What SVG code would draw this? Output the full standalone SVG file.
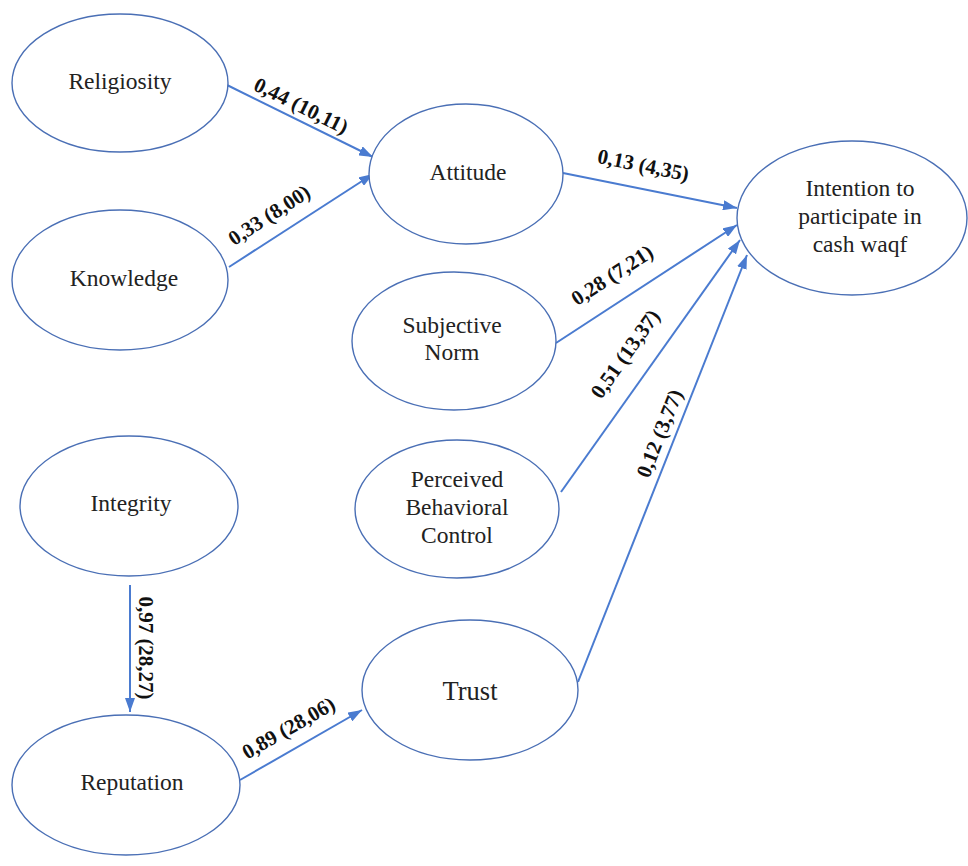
<svg xmlns="http://www.w3.org/2000/svg" width="968" height="866" viewBox="0 0 968 866">
<style>
.node ellipse{fill:#fff;stroke:#4a6fb5;stroke-width:1.4}
.node text{font-size:23.5px;fill:#222;text-anchor:middle;dominant-baseline:middle}
.edges line{stroke:#4a7bd0;stroke-width:2;marker-end:url(#ah)}
.lbl{font-size:21px;font-weight:bold;fill:#111;text-anchor:middle}
</style>
<defs>
<marker id="ah" viewBox="0 0 14 10" refX="14" refY="5" markerWidth="14" markerHeight="10" markerUnits="userSpaceOnUse" orient="auto"><path d="M0,0 L14,5 L0,10 z" fill="#4a7bd0"/></marker>
</defs>
<rect width="968" height="866" fill="#fff"/>
<g class="edges" font-family="Liberation Serif, Times New Roman, DejaVu Serif, serif">
<line x1="227" y1="85" x2="373" y2="157"/>
<line x1="229" y1="267" x2="373" y2="174"/>
<line x1="563" y1="173" x2="737" y2="208"/>
<line x1="556" y1="343" x2="737" y2="225"/>
<line x1="561" y1="492" x2="740" y2="240"/>
<line x1="578" y1="682" x2="747" y2="255"/>
<line x1="130" y1="585" x2="130" y2="712"/>
<line x1="240" y1="780" x2="362" y2="710"/>
<text class="lbl" transform="translate(298,112) rotate(26.3)">0,44 (10,11)</text>
<text class="lbl" transform="translate(273,221) rotate(-32.9)">0,33 (8,00)</text>
<text class="lbl" transform="translate(642,172) rotate(11.4)">0,13 (4,35)</text>
<text class="lbl" transform="translate(616,281) rotate(-33)">0,28 (7,21)</text>
<text class="lbl" transform="translate(631,358) rotate(-54.6)">0,51 (13,37)</text>
<text class="lbl" transform="translate(666,436) rotate(-68.4)">0,12 (3,77)</text>
<text class="lbl" transform="translate(139,648) rotate(90)">0,97 (28,27)</text>
<text class="lbl" transform="translate(292,734) rotate(-29.8)">0,89 (28,06)</text>
</g>
<g font-family="Liberation Serif, Times New Roman, DejaVu Serif, serif">
<g id="religiosity" class="node"><ellipse cx="120" cy="83" rx="108" ry="69"/><text x="120" y="84">Religiosity</text></g>
<g id="knowledge" class="node"><ellipse cx="120" cy="280" rx="108" ry="70"/><text x="124" y="281">Knowledge</text></g>
<g id="attitude" class="node"><ellipse cx="466" cy="174" rx="97" ry="70"/><text x="468" y="175">Attitude</text></g>
<g id="intention" class="node"><ellipse cx="852" cy="218" rx="115" ry="77"/><text x="860" y="191">Intention to</text><text x="860" y="219">participate in</text><text x="860" y="247">cash waqf</text></g>
<g id="subjective-norm" class="node"><ellipse cx="454" cy="341" rx="102" ry="69"/><text x="452" y="328">Subjective</text><text x="452" y="355">Norm</text></g>
<g id="pbc" class="node"><ellipse cx="457" cy="509" rx="102" ry="69"/><text x="457" y="482">Perceived</text><text x="457" y="510">Behavioral</text><text x="457" y="538">Control</text></g>
<g id="integrity" class="node"><ellipse cx="129" cy="506" rx="109" ry="70"/><text x="131" y="506">Integrity</text></g>
<g id="reputation" class="node"><ellipse cx="126" cy="785" rx="114" ry="70"/><text x="132" y="785">Reputation</text></g>
<g id="trust" class="node"><ellipse cx="470" cy="690" rx="108" ry="70"/><text x="470" y="694" style="font-size:26.5px">Trust</text></g>
</g>
</svg>
